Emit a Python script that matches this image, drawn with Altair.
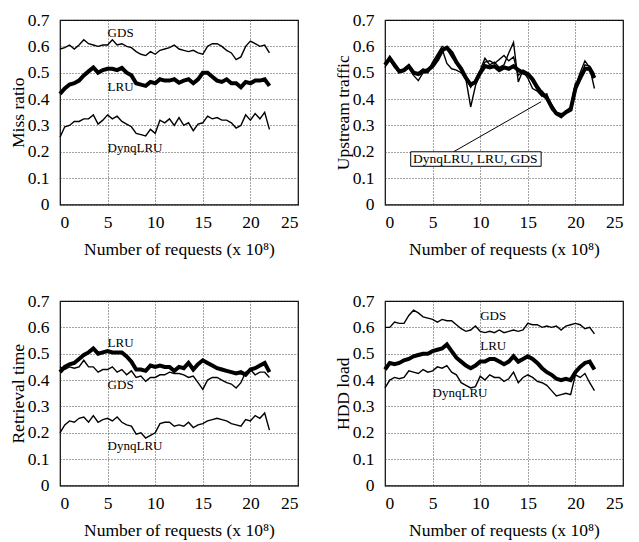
import altair as alt
import pandas as pd

# x positions (number of requests, x 10^8)
X = [0, 0.5, 1, 1.5, 2, 2.5, 3, 3.5, 4, 4.5, 5, 5.5, 6, 6.5, 7, 7.5, 8, 8.5, 9, 9.5,
     10, 10.5, 11, 11.5, 12, 12.5, 13, 13.5, 14, 14.5, 15, 15.5, 16, 16.5, 17, 17.5,
     18, 18.5, 19, 19.5, 20, 20.5, 21, 21.5, 22]

# ---- Miss ratio ----
miss_gds = [0.590, 0.595, 0.605, 0.590, 0.605, 0.625, 0.610, 0.605, 0.600, 0.605,
            0.605, 0.625, 0.605, 0.610, 0.600, 0.595, 0.580, 0.570, 0.565, 0.580,
            0.570, 0.585, 0.590, 0.595, 0.605, 0.590, 0.585, 0.580, 0.585, 0.575,
            0.570, 0.600, 0.610, 0.610, 0.600, 0.585, 0.575, 0.550, 0.560, 0.600,
            0.620, 0.610, 0.600, 0.605, 0.575]
miss_lru = [0.420, 0.440, 0.455, 0.460, 0.470, 0.490, 0.505, 0.520, 0.500, 0.510,
            0.515, 0.515, 0.510, 0.518, 0.500, 0.490, 0.460, 0.455, 0.450, 0.465,
            0.460, 0.475, 0.470, 0.470, 0.475, 0.462, 0.470, 0.475, 0.460, 0.475,
            0.500, 0.500, 0.485, 0.470, 0.465, 0.475, 0.460, 0.460, 0.445, 0.465,
            0.460, 0.470, 0.470, 0.475, 0.450]
miss_dynq = [0.255, 0.295, 0.300, 0.315, 0.315, 0.325, 0.325, 0.340, 0.305, 0.320,
             0.340, 0.325, 0.335, 0.315, 0.305, 0.295, 0.270, 0.265, 0.260, 0.285,
             0.270, 0.320, 0.310, 0.325, 0.300, 0.330, 0.300, 0.310, 0.280, 0.305,
             0.310, 0.335, 0.325, 0.330, 0.320, 0.320, 0.310, 0.290, 0.300, 0.340,
             0.320, 0.345, 0.325, 0.350, 0.285]

# ---- Upstream traffic ----
up_lru = [0.530, 0.555, 0.530, 0.505, 0.510, 0.525, 0.500, 0.495, 0.505, 0.510,
          0.525, 0.550, 0.585, 0.595, 0.575, 0.540, 0.515, 0.480, 0.455, 0.465,
          0.500, 0.525, 0.520, 0.525, 0.510, 0.520, 0.515, 0.525, 0.510, 0.500,
          0.495, 0.475, 0.445, 0.420, 0.405, 0.370, 0.345, 0.335, 0.350, 0.360,
          0.440, 0.480, 0.515, 0.515, 0.480]
up_dynq = [0.520, 0.560, 0.525, 0.500, 0.505, 0.520, 0.490, 0.470, 0.500, 0.500,
           0.530, 0.565, 0.590, 0.535, 0.515, 0.510, 0.500, 0.475, 0.370, 0.450,
           0.505, 0.540, 0.545, 0.535, 0.550, 0.565, 0.545, 0.560, 0.490, 0.505,
           0.480, 0.440, 0.430, 0.410, 0.420, 0.360, 0.345, 0.330, 0.355, 0.370,
           0.460, 0.470, 0.530, 0.525, 0.495]
up_gds = [0.540, 0.550, 0.520, 0.505, 0.515, 0.530, 0.495, 0.500, 0.515, 0.505,
          0.540, 0.570, 0.600, 0.590, 0.560, 0.535, 0.510, 0.485, 0.445, 0.475,
          0.510, 0.555, 0.530, 0.540, 0.520, 0.530, 0.575, 0.615, 0.465, 0.510,
          0.500, 0.465, 0.435, 0.430, 0.410, 0.380, 0.350, 0.345, 0.345, 0.365,
          0.450, 0.500, 0.545, 0.520, 0.440]

# ---- Retrieval time ----
ret_lru = [0.430, 0.450, 0.460, 0.465, 0.480, 0.495, 0.505, 0.520, 0.500, 0.505,
           0.510, 0.505, 0.505, 0.505, 0.490, 0.470, 0.440, 0.440, 0.435, 0.455,
           0.450, 0.455, 0.450, 0.450, 0.435, 0.450, 0.445, 0.465, 0.440, 0.460,
           0.475, 0.465, 0.455, 0.445, 0.440, 0.435, 0.430, 0.425, 0.430, 0.420,
           0.440, 0.445, 0.455, 0.465, 0.430]
ret_gds = [0.450, 0.440, 0.450, 0.445, 0.450, 0.475, 0.450, 0.450, 0.430, 0.440,
           0.440, 0.450, 0.430, 0.440, 0.420, 0.435, 0.410, 0.415, 0.395, 0.410,
           0.410, 0.420, 0.420, 0.430, 0.425, 0.425, 0.420, 0.410, 0.415, 0.390,
           0.365, 0.400, 0.410, 0.410, 0.400, 0.390, 0.385, 0.370, 0.390, 0.430,
           0.440, 0.420, 0.430, 0.430, 0.410]
ret_dynq = [0.200, 0.230, 0.245, 0.240, 0.255, 0.260, 0.240, 0.265, 0.240, 0.250,
            0.255, 0.245, 0.260, 0.240, 0.230, 0.225, 0.195, 0.200, 0.180, 0.190,
            0.200, 0.235, 0.240, 0.240, 0.225, 0.230, 0.225, 0.240, 0.220, 0.230,
            0.235, 0.245, 0.250, 0.255, 0.250, 0.245, 0.235, 0.230, 0.225, 0.250,
            0.245, 0.265, 0.255, 0.275, 0.210]

# ---- HDD load ----
hdd_gds = [0.600, 0.600, 0.620, 0.615, 0.615, 0.645, 0.665, 0.655, 0.640, 0.635,
           0.630, 0.620, 0.630, 0.625, 0.625, 0.610, 0.595, 0.585, 0.590, 0.605,
           0.585, 0.580, 0.585, 0.580, 0.590, 0.580, 0.585, 0.590, 0.585, 0.590,
           0.615, 0.610, 0.610, 0.600, 0.605, 0.600, 0.605, 0.590, 0.605, 0.610,
           0.615, 0.610, 0.595, 0.600, 0.575]
hdd_lru = [0.440, 0.465, 0.460, 0.465, 0.475, 0.480, 0.490, 0.495, 0.500, 0.500,
           0.510, 0.515, 0.520, 0.535, 0.510, 0.485, 0.470, 0.455, 0.445, 0.455,
           0.470, 0.470, 0.480, 0.480, 0.470, 0.460, 0.470, 0.490, 0.470, 0.480,
           0.490, 0.480, 0.465, 0.445, 0.430, 0.420, 0.405, 0.400, 0.405, 0.400,
           0.430, 0.450, 0.465, 0.470, 0.440]
hdd_dynq = [0.370, 0.400, 0.410, 0.405, 0.410, 0.435, 0.430, 0.425, 0.440, 0.430,
            0.435, 0.450, 0.445, 0.455, 0.430, 0.420, 0.390, 0.380, 0.370, 0.375,
            0.415, 0.400, 0.420, 0.410, 0.410, 0.395, 0.405, 0.430, 0.390, 0.410,
            0.420, 0.410, 0.395, 0.390, 0.380, 0.360, 0.340, 0.345, 0.350, 0.345,
            0.420, 0.410, 0.425, 0.390, 0.360]

X_TICKS = [0, 5, 10, 15, 20, 25]
Y_TICKS = [0, 0.1, 0.2, 0.3, 0.4, 0.5, 0.6, 0.7]
X_TITLE = "Number of requests (x 10\u2078)"

# in-plot curve labels: (text, x, value)
miss_labels = [("GDS", 5, 0.65), ("LRU", 5, 0.446), ("DynqLRU", 5, 0.214)]
ret_labels = [("LRU", 5, 0.54), ("GDS", 5, 0.382), ("DynqLRU", 5, 0.151)]
hdd_labels = [("GDS", 10, 0.644), ("LRU", 10, 0.528), ("DynqLRU", 5, 0.351)]
up_box_text = "DynqLRU, LRU, GDS"
up_box = {"x": 2.7, "x2": 16.4, "v": 0.145, "v2": 0.2}
up_pointer = {"x": 7.2, "x2": 16.4, "v": 0.2, "v2": 0.39}

FONT = "Liberation Serif"
THIN, THICK = 1.4, 4.0


def long_df(series_dict):
    rows = []
    for name, vals in series_dict.items():
        w = THICK if name == "LRU" else THIN
        for xv, yv in zip(X, vals):
            rows.append({"x": xv, "v": yv, "series": name, "w": w})
    return pd.DataFrame(rows)


def panel(series_dict, ytitle, labels=None, annotate=False):
    xenc = alt.X("x:Q", scale=alt.Scale(domain=[0, 25], nice=False, zero=False),
                 axis=alt.Axis(values=X_TICKS, title=X_TITLE))
    yenc = alt.Y("v:Q", scale=alt.Scale(domain=[0, 0.7], nice=False),
                 axis=alt.Axis(values=Y_TICKS, title=ytitle, format=".1~f"))
    lines = alt.Chart(long_df(series_dict)).mark_line(color="black").encode(
        x=xenc, y=yenc, detail="series:N",
        strokeWidth=alt.StrokeWidth("w:Q", scale=None),
    )
    layers = [lines]
    if labels:
        ldf = pd.DataFrame([{"t": t, "x": xv, "v": yv} for t, xv, yv in labels])
        layers.append(alt.Chart(ldf).mark_text(align="left", baseline="middle", font=FONT,
                                               fontSize=13, color="black").encode(
            x=xenc, y=yenc, text="t:N"))
    if annotate:
        rdf = pd.DataFrame([up_pointer])
        layers.append(alt.Chart(rdf).mark_rule(color="black", strokeWidth=1).encode(
            x=xenc, y=yenc, x2="x2:Q", y2="v2:Q"))
        bdf = pd.DataFrame([up_box])
        layers.append(alt.Chart(bdf).mark_rect(fill="white", stroke="black", strokeWidth=1).encode(
            x=xenc, y=yenc, x2="x2:Q", y2="v2:Q"))
        tdf = pd.DataFrame([{"t": up_box_text, "x": up_box["x"] + 0.25,
                             "v": (up_box["v"] + up_box["v2"]) / 2}])
        layers.append(alt.Chart(tdf).mark_text(align="left", baseline="middle", font=FONT,
                                               fontSize=13.5, color="black").encode(
            x=xenc, y=yenc, text="t:N"))
    return alt.layer(*layers).properties(width=238, height=184.5)


tl = panel({"GDS": miss_gds, "LRU": miss_lru, "DynqLRU": miss_dynq}, "Miss ratio", miss_labels)
tr = panel({"GDS": up_gds, "LRU": up_lru, "DynqLRU": up_dynq}, "Upstream traffic", annotate=True)
bl = panel({"GDS": ret_gds, "LRU": ret_lru, "DynqLRU": ret_dynq}, "Retrieval time", ret_labels)
br = panel({"GDS": hdd_gds, "LRU": hdd_lru, "DynqLRU": hdd_dynq}, "HDD load", hdd_labels)

chart = alt.concat(tl, tr, bl, br, columns=2, spacing={"row": 32, "column": 34}).properties(
    padding={"left": 0, "top": 2, "right": 0, "bottom": 0}
).configure_view(
    stroke="black", strokeWidth=1.2
).configure_axis(
    labelFont=FONT, labelFontSize=17.5, labelColor="black",
    titleFont=FONT, titleFontSize=17.5, titleFontWeight="normal", titleColor="black",
    ticks=False, domain=False, grid=True, gridColor="#333333", gridDash=[1, 2],
    gridWidth=1, gridOpacity=0.9,
).configure_axisX(
    labelPadding=9, titlePadding=9, labelAngle=0,
).configure_axisY(
    labelPadding=11, titlePadding=0,
)

chart.save("out.html", embed_options={"renderer": "svg", "actions": False})
